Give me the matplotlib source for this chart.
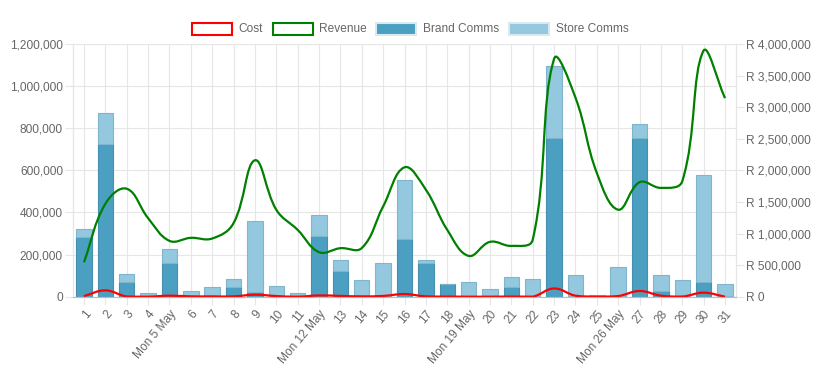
import numpy as np
import matplotlib
matplotlib.use("Agg")
import matplotlib.pyplot as plt
from matplotlib.path import Path
from matplotlib.patches import PathPatch, Rectangle
from matplotlib.ticker import FuncFormatter, MultipleLocator

plt.rcParams['font.family'] = ['Liberation Sans', 'DejaVu Sans']

days = ['1', '2', '3', '4', 'Mon 5 May', '6', '7', '8', '9', '10', '11',
        'Mon 12 May', '13', '14', '15', '16', '17', '18', 'Mon 19 May', '20',
        '21', '22', '23', '24', '25', 'Mon 26 May', '27', '28', '29', '30', '31']

brand_comms = [283000, 727000, 72000, 3000, 161000, 2000, 2000, 48000, 24000, 5000,
               3000, 286000, 124000, 2000, 3000, 275000, 162000, 60000, 2000, 2000,
               45000, 2000, 752000, 3000, 1000, 2000, 755000, 26000, 2000, 70000, 3000]
store_comms = [38000, 143000, 35000, 13000, 66000, 24000, 43000, 35000, 334000, 47000,
               13000, 102000, 48000, 78000, 159000, 277000, 13000, 1000, 70000, 36000,
               47000, 81000, 345000, 100000, 6000, 138000, 63000, 79000, 76000, 507000, 56000]

revenue = [546000, 1470000, 1709000, 1244000, 884000, 932000, 921000, 1165000, 2159000,
           1376000, 1058000, 705000, 768000, 770000, 1429000, 2048000, 1693000, 1058000,
           646000, 868000, 804000, 900000, 3765000, 3152000, 1960000, 1377000, 1812000,
           1722000, 1828000, 3899000, 3142000]
cost = [10000, 100000, 3000, 0, 16000, 5000, 5000, 5000, 32000, 10000, 0, 20000, 12000,
        5000, 12000, 42000, 5000, 2000, 0, 0, 2000, 0, 130000, 16000, 0, 10000, 90000,
        16000, 2000, 64000, 0]

W, H = 820, 388
GRID = '#e6e6e6'
TXT = '#666666'
BRAND = '#4b9fc1'
BRAND_EDGE = '#4590b0'
STORE = '#93c8de'
STORE_EDGE = '#80b6cd'


def spline_path(ax, xs, ys, tension=0.4):
    # chart.js style bezier, computed in pixel space
    pts = ax.transData.transform(np.column_stack([xs, ys]))
    ylo = ax.transData.transform((0, ax.get_ylim()[0]))[1]
    yhi = ax.transData.transform((0, ax.get_ylim()[1]))[1]
    n = len(pts)
    cp_prev, cp_next = [], []
    for i in range(n):
        prev = pts[max(i - 1, 0)]
        cur = pts[i]
        nxt = pts[min(i + 1, n - 1)]
        d01 = np.hypot(*(cur - prev))
        d12 = np.hypot(*(nxt - cur))
        tot = d01 + d12
        s01 = d01 / tot if tot else 0
        s12 = d12 / tot if tot else 0
        a = cur - tension * s01 * (nxt - prev)
        b = cur + tension * s12 * (nxt - prev)
        a[1] = min(max(a[1], ylo), yhi)
        b[1] = min(max(b[1], ylo), yhi)
        cp_prev.append(a)
        cp_next.append(b)
    verts = [pts[0]]
    codes = [Path.MOVETO]
    for i in range(n - 1):
        verts += [cp_next[i], cp_prev[i + 1], pts[i + 1]]
        codes += [Path.CURVE4] * 3
    verts = ax.transData.inverted().transform(np.array(verts))
    return Path(verts, codes)


fig = plt.figure(figsize=(W / 100, H / 100), dpi=100)
left, right, top, bottom = 73.3, 735.7, 44.0, 296.7
ax = fig.add_axes([left / W, (H - bottom) / H, (right - left) / W, (bottom - top) / H])
ax2 = ax.twinx()

x = np.arange(len(days))
ax.set_xlim(-0.5, len(days) - 0.5)
ax.set_ylim(0, 1200000)
ax2.set_ylim(0, 4000000)

ax.bar(x, brand_comms, width=0.72, color=BRAND, edgecolor=BRAND_EDGE, linewidth=0.8, zorder=2)
ax.bar(x, store_comms, width=0.72, bottom=brand_comms, color=STORE,
       edgecolor=STORE_EDGE, linewidth=0.8, zorder=2)

ax2.add_patch(PathPatch(spline_path(ax2, x, revenue), fill=False, edgecolor='#008000', lw=1.6))
ax2.add_patch(PathPatch(spline_path(ax2, x, cost), fill=False, edgecolor='#ff0000', lw=1.6))

# grid + axes styling
ax.set_axisbelow(True)
ax.yaxis.set_major_locator(MultipleLocator(200000))
ax.yaxis.set_major_formatter(FuncFormatter(lambda v, p: f'{int(v):,}'))
ax.grid(True, color=GRID, lw=0.8)
ax.set_xticks(x)
ax.set_xticklabels(days, rotation=50, ha='right', rotation_mode='anchor')
ax2.yaxis.set_major_locator(MultipleLocator(500000))
ax2.yaxis.set_major_formatter(FuncFormatter(lambda v, p: f'R {int(v):,}'))

for a in (ax, ax2):
    for s in a.spines.values():
        s.set_color(GRID)
        s.set_linewidth(0.8)
    a.spines['bottom'].set_color('#bdbdbd')
    a.spines['top'].set_visible(False)
    a.tick_params(length=6, width=0.8, color=GRID, labelcolor=TXT, labelsize=8.6, pad=1.5)
ax.tick_params(axis='x', pad=2)

# legend drawn by hand at the top
legend = [('Cost', 192, 238, 'white', '#ff0000'),
          ('Revenue', 272.5, 319, 'white', '#008000'),
          ('Brand Comms', 376.5, 423, BRAND, '#d8e9f0'),
          ('Store Comms', 509, 555.5, STORE, '#d8e9f0')]
for label, bx, tx, fc, ec in legend:
    fig.add_artist(Rectangle((bx / W, (H - 35) / H), 40 / W, 12 / H, transform=fig.transFigure,
                             facecolor=fc, edgecolor=ec, lw=1.5))
    fig.text(tx / W, (H - 29) / H, label, color=TXT, fontsize=8.6, va='center', ha='left')

fig.savefig('out.png', dpi=100)
